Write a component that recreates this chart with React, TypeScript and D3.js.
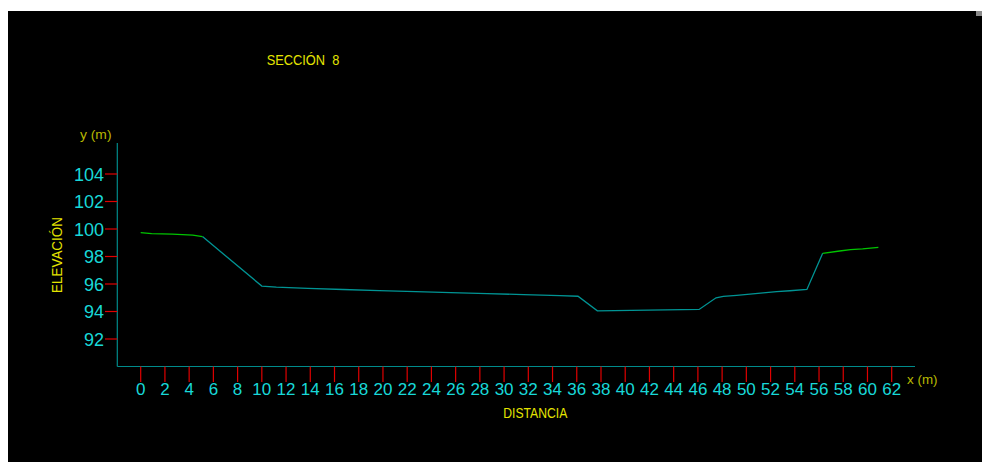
import React from "react";
import * as d3 from "d3";

// Cross-section survey: distance (m) vs. elevation (m)
const leftBankDist = [0, 0.9, 2.6, 4.3, 5.1];
const leftBankElev = [99.73, 99.66, 99.62, 99.55, 99.45];

const channelDist = [5.1, 10.0, 11.2, 13.8, 16.7, 19.7, 22.7, 25.6, 28.6, 31.6, 34.6, 36.1, 37.7, 41.9, 46.1, 47.5, 48.1, 49.2, 50.3, 51.4, 52.5, 53.6, 55.0, 56.3];
const channelElev = [99.45, 95.85, 95.77, 95.68, 95.6, 95.52, 95.44, 95.37, 95.3, 95.23, 95.16, 95.11, 94.05, 94.1, 94.15, 95.0, 95.1, 95.18, 95.26, 95.35, 95.44, 95.51, 95.6, 98.23];

const rightBankDist = [56.3, 57.7, 58.6, 59.6, 60.9];
const rightBankElev = [98.23, 98.4, 98.5, 98.55, 98.67];

const xTicks = d3.range(0, 63, 2);
const yTicks = [92, 94, 96, 98, 100, 102, 104];

const title = "SECCIÓN  8";
const xTitle = "DISTANCIA";
const yTitle = "ELEVACIÓN";
const xUnit = "x (m)";
const yUnit = "y (m)";

const W = 982;
const H = 462;

const x = d3.scaleLinear().domain([0, 62]).range([140.7, 891.7]);
const y = d3.scaleLinear().domain([90, 104]).range([366.5, 174]);

const axisColor = "#008b8b";
const tickColor = "#e00000";
const labelColor = "#18d8d8";
const titleColor = "#e4e400";
const unitColor = "#b8b800";
const bankColor = "#00c400";
const channelColor = "#009494";

const narrow = "'Liberation Sans Narrow', 'Liberation Sans', Arial, sans-serif";
const sans = "'Liberation Sans', Arial, sans-serif";

function pts(ds: number[], es: number[]): [number, number][] {
  return ds.map((d, i) => [d, es[i]]);
}

const line = d3
  .line<[number, number]>()
  .x((d) => x(d[0]))
  .y((d) => y(d[1]));

export default function App() {
  const axisY = y(90);
  const axisX = 117.3;
  return (
    <svg
      width={W}
      height={H}
      style={{ position: "absolute", left: 0, top: 0, display: "block" }}
    >
      <rect x={0} y={0} width={W} height={H} fill="#ffffff" />
      <rect x={8} y={11} width={W - 8} height={H - 11} fill="#000000" />
      <rect x={976} y={11} width={6} height={5} fill="#8a8a8a" />

      <text
        x={266.7}
        y={65}
        fill={titleColor}
        fontFamily={sans}
        fontSize={14}
        textLength={72.6}
        lengthAdjust="spacingAndGlyphs"
        style={{ whiteSpace: "pre" }}
      >
        {title}
      </text>

      {/* y axis */}
      <line x1={axisX} y1={143} x2={axisX} y2={axisY} stroke={axisColor} strokeWidth={1.2} />
      {yTicks.map((t) => (
        <g key={`y${t}`}>
          <line x1={105} x2={axisX} y1={y(t)} y2={y(t)} stroke={tickColor} strokeWidth={1.2} />
          <text
            x={104}
            y={y(t) + 6.5}
            textAnchor="end"
            fill={labelColor}
            fontFamily={narrow}
            fontSize={18}
          >
            {t}
          </text>
        </g>
      ))}
      <text x={80} y={138.5} fill={unitColor} fontFamily={sans} fontSize={12} textLength={31.5} lengthAdjust="spacingAndGlyphs">
        {yUnit}
      </text>
      <text
        transform={`translate(61.5,255) rotate(-90)`}
        textAnchor="middle"
        fill={titleColor}
        fontFamily={sans}
        fontSize={14}
        textLength={76}
        lengthAdjust="spacingAndGlyphs"
      >
        {yTitle}
      </text>

      {/* x axis */}
      <line x1={axisX} y1={axisY} x2={915} y2={axisY} stroke={axisColor} strokeWidth={1.2} />
      {xTicks.map((t) => (
        <g key={`x${t}`}>
          <line x1={x(t)} x2={x(t)} y1={axisY} y2={382} stroke={tickColor} strokeWidth={1.2} />
          <text
            x={x(t)}
            y={394.5}
            textAnchor="middle"
            fill={labelColor}
            fontFamily={narrow}
            fontSize={17}
          >
            {t}
          </text>
        </g>
      ))}
      <text x={907} y={383.5} fill={unitColor} fontFamily={sans} fontSize={12} textLength={30.5} lengthAdjust="spacingAndGlyphs">
        {xUnit}
      </text>
      <text
        x={535.3}
        y={418}
        textAnchor="middle"
        fill={titleColor}
        fontFamily={sans}
        fontSize={14.5}
        textLength={64}
        lengthAdjust="spacingAndGlyphs"
      >
        {xTitle}
      </text>

      {/* profile */}
      <path d={line(pts(channelDist, channelElev)) ?? ""} fill="none" stroke={channelColor} strokeWidth={1.3} />
      <path d={line(pts(leftBankDist, leftBankElev)) ?? ""} fill="none" stroke={bankColor} strokeWidth={1.3} />
      <path d={line(pts(rightBankDist, rightBankElev)) ?? ""} fill="none" stroke={bankColor} strokeWidth={1.3} />
    </svg>
  );
}
